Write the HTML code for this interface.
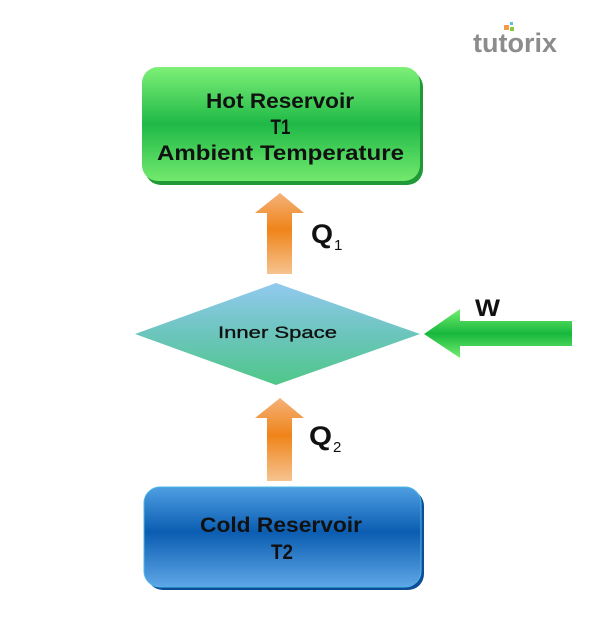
<!DOCTYPE html>
<html>
<head>
<meta charset="utf-8">
<style>
  html, body { margin:0; padding:0; background:#ffffff; }
  body { width:600px; height:640px; overflow:hidden; }
  svg { display:block; }
  text { font-family: "Liberation Sans", "DejaVu Sans", sans-serif; }
</style>
</head>
<body>
<svg width="600" height="640" viewBox="0 0 600 640" xmlns="http://www.w3.org/2000/svg">
  <defs>
    <linearGradient id="gHot" x1="0" y1="0" x2="0" y2="1">
      <stop offset="0" stop-color="#7ef077"/>
      <stop offset="0.5" stop-color="#1fb947"/>
      <stop offset="1" stop-color="#72e96c"/>
    </linearGradient>
    <linearGradient id="gCold" x1="0" y1="0" x2="0" y2="1">
      <stop offset="0" stop-color="#4e9fe2"/>
      <stop offset="0.45" stop-color="#0b5db2"/>
      <stop offset="1" stop-color="#5ea6e6"/>
    </linearGradient>
    <linearGradient id="gDia" x1="0" y1="0" x2="0" y2="1">
      <stop offset="0" stop-color="#92caf0"/>
      <stop offset="0.5" stop-color="#6cc5bd"/>
      <stop offset="1" stop-color="#4fc788"/>
    </linearGradient>
    <linearGradient id="gOr" x1="0" y1="0" x2="0" y2="1">
      <stop offset="0" stop-color="#f4b27a"/>
      <stop offset="0.45" stop-color="#ef8419"/>
      <stop offset="1" stop-color="#f6c390"/>
    </linearGradient>
    <linearGradient id="gW" x1="0" y1="0" x2="0" y2="1">
      <stop offset="0" stop-color="#74ee6e"/>
      <stop offset="0.5" stop-color="#17b83d"/>
      <stop offset="1" stop-color="#74ec6e"/>
    </linearGradient>
  </defs>

  <!-- tutorix logo -->
  <rect x="504" y="25" width="5" height="5" fill="#f29a4a"/>
  <rect x="510" y="22" width="3" height="3" fill="#5bc0de"/>
  <rect x="510" y="27" width="4" height="4" fill="#8cc63f"/>
  <text x="473" y="52" font-size="27" font-weight="bold" fill="#8c8c8c" textLength="84" lengthAdjust="spacingAndGlyphs">tutorix</text>

  <!-- Hot reservoir -->
  <rect x="145" y="71" width="278" height="114" rx="16" fill="#1f9a37"/>
  <rect x="142" y="67" width="278" height="114" rx="16" fill="url(#gHot)"/>
  <text x="280" y="108" font-size="21" font-weight="bold" fill="#111" text-anchor="middle" textLength="148" lengthAdjust="spacingAndGlyphs">Hot Reservoir</text>
  <text x="280.5" y="134" font-size="21" font-weight="bold" fill="#111" text-anchor="middle" textLength="20" lengthAdjust="spacingAndGlyphs">T1</text>
  <text x="280.5" y="160" font-size="21" font-weight="bold" fill="#111" text-anchor="middle" textLength="247" lengthAdjust="spacingAndGlyphs">Ambient Temperature</text>

  <!-- Q1 arrow -->
  <polygon points="280,193 304,213 292,213 292,274 267,274 267,213 255,213" fill="url(#gOr)"/>
  <text x="311" y="243" font-size="27" font-weight="bold" fill="#111" textLength="22" lengthAdjust="spacingAndGlyphs">Q</text>
  <text x="334" y="250" font-size="15" fill="#111">1</text>

  <!-- Diamond -->
  <polygon points="135,334 276,283 420,334 276,385" fill="url(#gDia)"/>
  <text x="277.5" y="338" font-size="17" fill="#111" stroke="#111" stroke-width="0.35" text-anchor="middle" textLength="119" lengthAdjust="spacingAndGlyphs">Inner Space</text>

  <!-- W arrow -->
  <polygon points="424,334 460,309 460,321 572,321 572,346 460,346 460,358" fill="url(#gW)"/>
  <text x="475" y="316" font-size="24" font-weight="bold" fill="#111" textLength="25" lengthAdjust="spacingAndGlyphs">W</text>

  <!-- Q2 arrow -->
  <polygon points="280,398 304,418 292,418 292,481 267,481 267,418 255,418" fill="url(#gOr)"/>
  <text x="309" y="445" font-size="27" font-weight="bold" fill="#111" textLength="23" lengthAdjust="spacingAndGlyphs">Q</text>
  <text x="333" y="452" font-size="15" fill="#111">2</text>

  <!-- Cold reservoir -->
  <rect x="147" y="490" width="277" height="100" rx="16" fill="#0c4f98"/>
  <rect x="144" y="487" width="277" height="100" rx="16" fill="url(#gCold)" stroke="#4cb8e4" stroke-width="1"/>
  <text x="281" y="532" font-size="21" font-weight="bold" fill="#111" text-anchor="middle" textLength="162" lengthAdjust="spacingAndGlyphs">Cold Reservoir</text>
  <text x="282" y="559" font-size="21" font-weight="bold" fill="#111" text-anchor="middle" textLength="22" lengthAdjust="spacingAndGlyphs">T2</text>
</svg>
</body>
</html>
